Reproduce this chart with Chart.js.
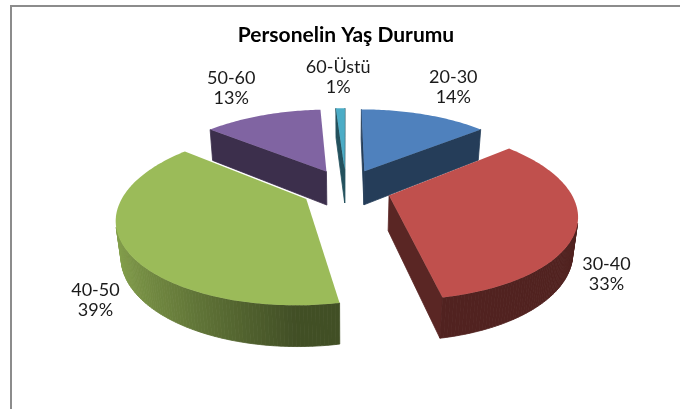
<!DOCTYPE html>
<html lang="tr">
<head>
  <meta charset="UTF-8" />
  <title>Personelin Yaş Durumu</title>
  <script src="https://cdn.jsdelivr.net/npm/chart.js"></script>
  <style>
    html, body { margin: 0; padding: 0; background: #fff; }
    #wrap { width: 680px; height: 409px; }
  </style>
</head>
<body>
  <div id="wrap"><canvas id="ageChart" width="680" height="409"></canvas></div>
  <script>
    const chartTitle = 'Personelin Yaş Durumu';
    const ageGroups = ['20-30', '30-40', '40-50', '50-60', '60-Üstü'];
    const sharePct = [14, 33, 39, 13, 1];
    const sliceColors = ['#4F81BD', '#C0504D', '#9BBB59', '#8064A2', '#4BACC6'];

    // fake 3d look of the excel pie, tuned by eye
    const VIEW_ELEV = 26.5 * Math.PI / 180;
    const CAM_DIST = 4.5;   // camera distance, in pie radii
    const WALL = 0.22;      // wall height, in pie radii

    const shade = (hex, f) => {
      const n = parseInt(hex.slice(1), 16);
      const r = Math.round(((n >> 16) & 255) * f);
      const g = Math.round(((n >> 8) & 255) * f);
      const b = Math.round((n & 255) * f);
      return `rgb(${r},${g},${b})`;
    };

    const makeProjector = (cx, cy, R) => {
      const sinE = Math.sin(VIEW_ELEV), cosE = Math.cos(VIEW_ELEV);
      const D = CAM_DIST * R;
      return {
        pt(X, Y, Z) {
          const depth = Y * cosE + Z * sinE;
          const p = D / (D - depth);
          return [cx + X * p, cy + (Y * sinE - Z * cosE) * p];
        },
        // vertical face with outward normal (nx, ny) through (px, py): facing the camera?
        sees(px, py, nx, ny) {
          return nx * (0 - px) + ny * (D * cosE - py) > 0;
        }
      };
    };

    const fillPoly = (ctx, pts, color, edge) => {
      ctx.beginPath();
      pts.forEach(([x, y], i) => i ? ctx.lineTo(x, y) : ctx.moveTo(x, y));
      ctx.closePath();
      ctx.fillStyle = color;
      ctx.fill();
      if (edge) {
        ctx.strokeStyle = color;
        ctx.lineWidth = 0.8;
        ctx.stroke();
      }
    };

    const sliceGeometry = (chart) => {
      const arcs = chart.getDatasetMeta(0).data;
      if (!arcs.length) return null;
      const { x: cx, y: cy, outerRadius: R } = arcs[0];
      const proj = makeProjector(cx, cy, R);
      const slices = arcs.map((arc, i) => {
        const s = arc.startAngle, e = arc.endAngle, m = (s + e) / 2;
        const off = arc.options.offset || 0;
        return { i, s, e, m, ox: Math.cos(m) * off, oy: Math.sin(m) * off, color: arc.options.backgroundColor };
      });
      return { proj, R, H: WALL * R, slices };
    };

    const drawSlice = (ctx, proj, sl, R, H) => {
      const { s, e, ox, oy } = sl;
      const steps = Math.max(2, Math.ceil((e - s) / (Math.PI / 180)));
      const rim = [];
      for (let k = 0; k <= steps; k++) {
        const t = s + (e - s) * k / steps;
        rim.push([t, ox + R * Math.cos(t), oy + R * Math.sin(t)]);
      }
      const first = rim[0], last = rim[steps];
      const cuts = [
        { n: [Math.sin(s), -Math.cos(s)], b: first },
        { n: [-Math.sin(e), Math.cos(e)], b: last }
      ];
      cuts.forEach(c => {
        if (!proj.sees(ox, oy, c.n[0], c.n[1])) return;
        fillPoly(ctx, [
          proj.pt(ox, oy, 0), proj.pt(c.b[1], c.b[2], 0),
          proj.pt(c.b[1], c.b[2], -H), proj.pt(ox, oy, -H)
        ], shade(sl.color, 0.47), true);
      });
      for (let k = 0; k < steps; k++) {
        const [t0, x0, y0] = rim[k];
        const [t1, x1, y1] = rim[k + 1];
        const tm = (t0 + t1) / 2;
        if (!proj.sees((x0 + x1) / 2, (y0 + y1) / 2, Math.cos(tm), Math.sin(tm))) continue;
        const light = 0.42 + 0.45 * Math.max(0, -Math.cos(tm));
        fillPoly(ctx, [
          proj.pt(x0, y0, 0), proj.pt(x1, y1, 0),
          proj.pt(x1, y1, -H), proj.pt(x0, y0, -H)
        ], shade(sl.color, light), true);
      }
      const top = [proj.pt(ox, oy, 0)];
      rim.forEach(([, x, y]) => top.push(proj.pt(x, y, 0)));
      fillPoly(ctx, top, sl.color, false);
    };

    const pie3d = {
      id: 'pie3d',
      beforeDraw(chart) {
        // grey frame on top and left, as in the original sheet
        const ctx = chart.ctx;
        ctx.save();
        ctx.strokeStyle = '#8c8c8c';
        ctx.lineWidth = 2;
        ctx.beginPath();
        ctx.moveTo(11, chart.height);
        ctx.lineTo(11, 6);
        ctx.lineTo(chart.width, 6);
        ctx.stroke();
        ctx.restore();
      },
      beforeDatasetsDraw(chart) {
        const geo = sliceGeometry(chart);
        if (!geo) return false;
        const ctx = chart.ctx;
        ctx.save();
        ctx.lineJoin = 'round';
        const order = geo.slices.slice().sort((a, b) => Math.sin(a.m) - Math.sin(b.m));
        order.forEach(sl => drawSlice(ctx, geo.proj, sl, geo.R, geo.H));
        ctx.restore();
        return false;
      },
      afterDraw(chart) {
        const geo = sliceGeometry(chart);
        if (!geo) return;
        const ctx = chart.ctx;
        const data = chart.data.datasets[0].data;
        const total = data.reduce((a, b) => a + b, 0);
        const lineH = 20;
        const gap = 11;
        const c = geo.proj.pt(0, 0, 0);
        ctx.save();
        ctx.font = '18px Lato';
        ctx.fillStyle = '#1a1a1a';
        ctx.textAlign = 'center';
        ctx.textBaseline = 'middle';
        geo.slices.forEach(sl => {
          const lines = [chart.data.labels[sl.i], Math.round(data[sl.i] / total * 100) + '%'];
          const w = Math.max(...lines.map(t => ctx.measureText(t).width));
          const h = lines.length * lineH;
          const front = Math.sin(sl.m) > 0;
          const p = geo.proj.pt(sl.ox + geo.R * Math.cos(sl.m), sl.oy + geo.R * Math.sin(sl.m), front ? -geo.H : 0);
          let dx = p[0] - c[0], dy = p[1] - c[1];
          const len = Math.hypot(dx, dy);
          dx /= len; dy /= len;
          const t = Math.min(w / 2 / Math.max(Math.abs(dx), 1e-6), h / 2 / Math.max(Math.abs(dy), 1e-6)) + gap;
          const lx = p[0] + dx * t, ly = p[1] + dy * t;
          lines.forEach((txt, j) => ctx.fillText(txt, lx, ly + (j - (lines.length - 1) / 2) * lineH));
        });
        ctx.restore();
      }
    };

    new Chart(document.getElementById('ageChart'), {
      type: 'pie',
      data: {
        labels: ageGroups,
        datasets: [{
          data: sharePct,
          backgroundColor: sliceColors,
          borderWidth: 0,
          offset: 45,
          hoverOffset: 0
        }]
      },
      options: {
        responsive: false,
        animation: false,
        radius: 180,
        layout: { padding: { left: 12, right: 0, top: 0, bottom: 80 } },
        plugins: {
          legend: { display: false },
          tooltip: { enabled: false },
          title: {
            display: true,
            text: chartTitle,
            color: '#000',
            font: { family: 'Lato', size: 21, weight: 'bold' },
            padding: { top: 23, bottom: 0 }
          }
        }
      },
      plugins: [pie3d]
    });
  </script>
</body>
</html>
